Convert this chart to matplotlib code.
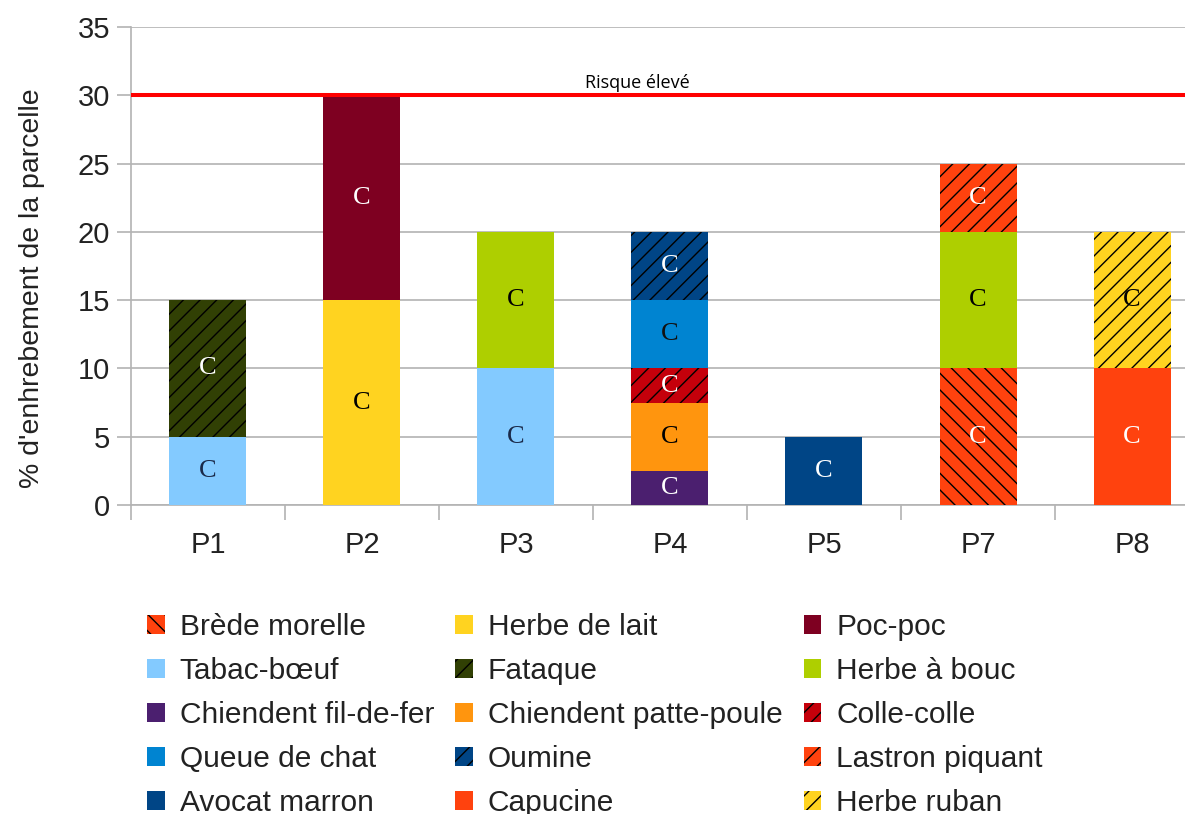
"""Taux d'enherbement par parcelle, barres empilées par espèce."""

import numpy as np
import matplotlib
matplotlib.use("Agg")
import matplotlib.pyplot as plt
from matplotlib.patches import Patch

PARCELLES = ["P1", "P2", "P3", "P4", "P5", "P7", "P8"]

ESPECES = [
    "Brède morelle", "Herbe de lait", "Poc-poc",
    "Tabac-bœuf", "Fataque", "Herbe à bouc",
    "Chiendent fil-de-fer", "Chiendent patte-poule", "Colle-colle",
    "Queue de chat", "Oumine", "Lastron piquant",
    "Avocat marron", "Capucine", "Herbe ruban",
]

# % of the plot per species, in the order of PARCELLES
brede_morelle = [0, 0, 0, 0, 0, 10, 0]
herbe_de_lait = [0, 15, 0, 0, 0, 0, 0]
poc_poc = [0, 15, 0, 0, 0, 0, 0]
tabac_boeuf = [5, 0, 10, 0, 0, 0, 0]
fataque = [10, 0, 0, 0, 0, 0, 0]
herbe_a_bouc = [0, 0, 10, 0, 0, 10, 0]
chiendent_fil = [0, 0, 0, 2.5, 0, 0, 0]
chiendent_patte = [0, 0, 0, 5, 0, 0, 0]
colle_colle = [0, 0, 0, 2.5, 0, 0, 0]
queue_de_chat = [0, 0, 0, 5, 0, 0, 0]
oumine = [0, 0, 0, 5, 0, 0, 0]
lastron = [0, 0, 0, 0, 0, 5, 0]
avocat_marron = [0, 0, 0, 0, 5, 0, 0]
capucine = [0, 0, 0, 0, 0, 0, 10]
herbe_ruban = [0, 0, 0, 0, 0, 0, 10]

SEUIL = 30
SEUIL_LABEL = "Risque élevé"

VALEURS = [
    brede_morelle, herbe_de_lait, poc_poc, tabac_boeuf, fataque, herbe_a_bouc,
    chiendent_fil, chiendent_patte, colle_colle, queue_de_chat, oumine, lastron,
    avocat_marron, capucine, herbe_ruban,
]

COULEURS = [
    "#ff420e", "#ffd320", "#7e0021", "#83caff", "#314004", "#aecf00",
    "#4b1f6f", "#ff950e", "#c5000b", "#0084d1", "#004586", "#ff420e",
    "#004586", "#ff420e", "#ffd320",
]
HACHURES = [
    "\\\\", None, None, None, "//", None,
    None, None, "//", None, "//", "//",
    None, None, "//",
]
COULEURS_C = [
    "white", "black", "white", "#1a2a4a", "white", "black",
    "white", "black", "white", "#111111", "white", "white",
    "white", "white", "black",
]

plt.rcParams["font.family"] = ["Liberation Sans", "DejaVu Sans"]
plt.rcParams["hatch.linewidth"] = 1.0

fig = plt.figure(figsize=(11.85, 8.14), dpi=100)
ax = fig.add_axes([0.1105, 0.3796, 0.8895, 0.5872])

x = np.arange(len(PARCELLES))
bottom = np.zeros(len(PARCELLES))
handles = []
for nom, vals, col, hat, tcol in zip(ESPECES, VALEURS, COULEURS, HACHURES, COULEURS_C):
    vals = np.array(vals, dtype=float)
    bars = ax.bar(x, vals, 0.5, bottom=bottom, color=col, hatch=hat,
                  edgecolor="black" if hat else col, linewidth=0, zorder=3)
    ax.bar_label(bars, labels=["C" if v > 0 else "" for v in vals],
                 label_type="center", color=tcol, fontsize=19,
                 family="Liberation Serif")
    bottom += vals
    handles.append(Patch(facecolor=col, hatch=hat,
                         edgecolor="black" if hat else col, linewidth=0, label=nom))

ax.axhline(SEUIL, color="#ff0000", lw=2.9, zorder=4)
ax.text(2.79, SEUIL + 0.25, SEUIL_LABEL, ha="center", va="bottom",
        fontsize=13, family="Open Sans", color="black")

ax.set_xlim(-0.5, 6.344)
ax.set_ylim(0, 35)
ax.set_yticks(np.arange(0, 36, 5))
ax.set_xticks(x)
ax.set_xticklabels(PARCELLES)
ax.set_xticks(np.arange(len(PARCELLES)) - 0.5, minor=True)
ax.tick_params(axis="x", which="major", length=0, pad=19, labelsize=21,
               labelcolor="#222222")
ax.tick_params(axis="x", which="minor", length=11, width=1.2, color="#b3b3b3")
ax.tick_params(axis="y", length=10, width=1.2, color="#b3b3b3", pad=5,
               labelsize=21, labelcolor="#222222")
ax.grid(axis="y", color="#b3b3b3", lw=1.2, zorder=0)
ax.set_axisbelow(True)
for side in ("top", "right"):
    ax.spines[side].set_visible(False)
for side in ("left", "bottom"):
    ax.spines[side].set_color("#b3b3b3")
    ax.spines[side].set_linewidth(1.2)
ax.set_ylabel("% d'enhrebement de la parcelle", fontsize=20.5, color="#222222",
              va="center")
ax.yaxis.set_label_coords(-0.094, 0.454)

# legend is row-major in the picture, matplotlib fills by column
ncol = 3
ordre = [r * ncol + c for c in range(ncol) for r in range(len(ESPECES) // ncol)]
fig.legend([handles[i] for i in ordre], [ESPECES[i] for i in ordre],
           ncol=ncol, loc="upper left", bbox_to_anchor=(132 / 1185, 1 - 598 / 814),
           frameon=False, fontsize=21.5, borderpad=0, handlelength=0.6,
           handleheight=0.6, handletextpad=0.5, columnspacing=0.7,
           labelspacing=0.535, labelcolor="#222222")

fig.savefig("out.png", dpi=100)
